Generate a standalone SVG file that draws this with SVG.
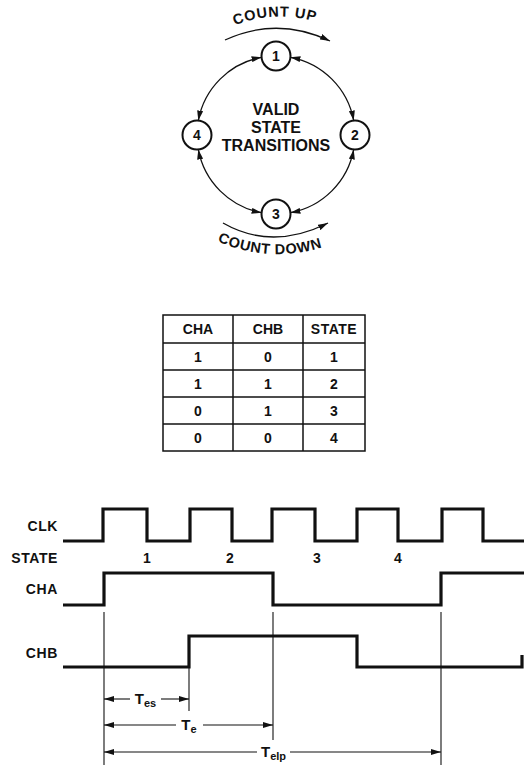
<svg xmlns="http://www.w3.org/2000/svg" width="524" height="765" viewBox="0 0 524 765">
<style>
text{font-family:"Liberation Sans",Arial,sans-serif;font-weight:bold;fill:#111}
.lbl{font-size:14px;letter-spacing:0.6px}
.node circle{fill:#fff;stroke:#111;stroke-width:2}
.node text{font-size:14px;text-anchor:middle}
.conn{fill:none;stroke:#111;stroke-width:1.3}
.sig{fill:none;stroke:#111;stroke-width:3.2;stroke-linejoin:miter}
.thin{fill:none;stroke:#111;stroke-width:1.1}
.tbl{fill:none;stroke:#111;stroke-width:1.5}
.tc{font-size:14px;text-anchor:middle}
</style>
<defs>
<marker id="ah" viewBox="0 0 10 6" refX="10" refY="3" markerWidth="10" markerHeight="6" markerUnits="userSpaceOnUse" orient="auto-start-reverse">
<path d="M0,0 L10,3 L0,6 Z" fill="#111"/>
</marker>
<path id="upPath" d="M 218 33.6 A 122 122 0 0 1 333 28.5"/>
<path id="downPath" d="M 198 230.6 A 147 147 0 0 0 343 239"/>
</defs>

<!-- state diagram connectors -->
<g id="connectors">
<path class="conn" d="M 290.4 57.3 A 79 79 0 0 1 353.7 120.6" marker-start="url(#ah)" marker-end="url(#ah)"/>
<path class="conn" d="M 353.7 149.4 A 79 79 0 0 1 290.4 212.7" marker-start="url(#ah)" marker-end="url(#ah)"/>
<path class="conn" d="M 261.6 212.7 A 79 79 0 0 1 198.3 149.4" marker-start="url(#ah)" marker-end="url(#ah)"/>
<path class="conn" d="M 198.3 120.6 A 79 79 0 0 1 261.6 57.3" marker-start="url(#ah)" marker-end="url(#ah)"/>
<path class="conn" d="M 225 40 Q 277 16 330 41" marker-end="url(#ah)"/>
<path class="conn" d="M 223 223 Q 272 251 328 223" marker-end="url(#ah)"/>
</g>

<text style="font-size:14.5px;letter-spacing:0.8px"><textPath href="#upPath" startOffset="50%" text-anchor="middle">COUNT UP</textPath></text>
<text style="font-size:14.5px;letter-spacing:0.6px"><textPath href="#downPath" startOffset="50%" text-anchor="middle">COUNT DOWN</textPath></text>

<g id="node1" class="node"><circle cx="276" cy="56" r="14.5"/><text x="276" y="61">1</text></g>
<g id="node2" class="node"><circle cx="355" cy="135" r="14.5"/><text x="355" y="140">2</text></g>
<g id="node3" class="node"><circle cx="276" cy="214" r="14.5"/><text x="276" y="219">3</text></g>
<g id="node4" class="node"><circle cx="197" cy="135" r="14.5"/><text x="197" y="140">4</text></g>

<g id="center-label" style="font-size:16px;text-anchor:middle">
<text x="276" y="115">VALID</text>
<text x="276" y="133">STATE</text>
<text x="276" y="151">TRANSITIONS</text>
</g>

<!-- table -->
<g id="table">
<rect class="tbl" x="163" y="315" width="202" height="136"/>
<line class="tbl" x1="233" y1="315" x2="233" y2="451"/>
<line class="tbl" x1="303" y1="315" x2="303" y2="451"/>
<line class="tbl" x1="163" y1="343" x2="365" y2="343"/>
<line class="tbl" x1="163" y1="370" x2="365" y2="370"/>
<line class="tbl" x1="163" y1="397" x2="365" y2="397"/>
<line class="tbl" x1="163" y1="424" x2="365" y2="424"/>
<text class="tc" x="198" y="334">CHA</text>
<text class="tc" x="268" y="334">CHB</text>
<text class="tc" x="334" y="334" style="letter-spacing:0.5px">STATE</text>
<text class="tc" x="198" y="362">1</text><text class="tc" x="268" y="362">0</text><text class="tc" x="334" y="362">1</text>
<text class="tc" x="198" y="389">1</text><text class="tc" x="268" y="389">1</text><text class="tc" x="334" y="389">2</text>
<text class="tc" x="198" y="416">0</text><text class="tc" x="268" y="416">1</text><text class="tc" x="334" y="416">3</text>
<text class="tc" x="198" y="443">0</text><text class="tc" x="268" y="443">0</text><text class="tc" x="334" y="443">4</text>
</g>

<!-- timing diagram -->
<g id="timing-labels" class="lbl" style="text-anchor:end">
<text x="58" y="531">CLK</text>
<text x="58" y="563">STATE</text>
<text x="58" y="594">CHA</text>
<text x="58" y="658">CHB</text>
</g>
<g id="state-numbers" class="tc">
<text x="147" y="563">1</text>
<text x="230" y="563">2</text>
<text x="317" y="563">3</text>
<text x="398" y="563">4</text>
</g>
<g id="signals">
<path id="clk" class="sig" d="M 63 541 H 103 V 509 H 147 V 541 H 190 V 509 H 232 V 541 H 272 V 509 H 315 V 541 H 357 V 509 H 398 V 541 H 442 V 509 H 483 V 541 H 524"/>
<path id="cha" class="sig" d="M 63 605 H 104 V 573 H 273 V 605 H 441 V 573 H 524"/>
<path id="chb" class="sig" d="M 63 667 H 189 V 636 H 357 V 667 H 522 V 655"/>
</g>
<g id="timing-refs">
<line class="thin" x1="104" y1="612" x2="104" y2="765"/>
<line class="thin" x1="273" y1="612" x2="273" y2="740"/>
<line class="thin" x1="441" y1="612" x2="441" y2="765"/>
<line class="thin" x1="189" y1="667" x2="189" y2="711"/>
<line class="thin" x1="104" y1="699" x2="130" y2="699" marker-start="url(#ah)"/>
<line class="thin" x1="161" y1="699" x2="189" y2="699" marker-end="url(#ah)"/>
<line class="thin" x1="104" y1="725" x2="176" y2="725" marker-start="url(#ah)"/>
<line class="thin" x1="203" y1="725" x2="273" y2="725" marker-end="url(#ah)"/>
<line class="thin" x1="104" y1="752" x2="257" y2="752" marker-start="url(#ah)"/>
<line class="thin" x1="290" y1="752" x2="441" y2="752" marker-end="url(#ah)"/>
<text x="145.5" y="704" style="font-size:15px;text-anchor:middle">T<tspan style="font-size:11px" dy="3">es</tspan></text>
<text x="189" y="730" style="font-size:15px;text-anchor:middle">T<tspan style="font-size:11px" dy="3">e</tspan></text>
<text x="273.5" y="757" style="font-size:15px;text-anchor:middle">T<tspan style="font-size:11px" dy="3">elp</tspan></text>
</g>
</svg>
